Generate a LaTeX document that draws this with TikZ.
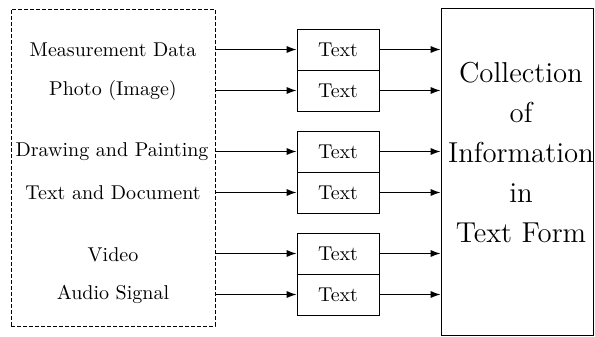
\documentclass[tikz,border=0pt]{standalone}
\usepackage{amsmath}
\usepackage{tikz}
\usetikzlibrary{positioning,arrows.meta}

\begin{document}
\begin{tikzpicture}[x=0.5pt, y=-0.5pt, line width=0.5pt,
    srcbox/.style={rectangle, draw, dash pattern=on 1.8pt off 1.2pt, minimum width=102pt, minimum height=158.5pt},
    txtbox/.style={rectangle, draw, minimum width=41pt, minimum height=20.5pt},
    collbox/.style={rectangle, draw, minimum width=76pt, minimum height=163.5pt},
    link/.style={-{Latex[length=5pt,width=3.6pt]}}]

    \useasboundingbox (0,0) rectangle (595,337);

    % sources
    \node[srcbox] (src) at (113,167.5) {};
    \node (m1) at (113,50) {Measurement Data};
    \node (m2) at (113,90) {Photo (Image)};
    \node (m3) at (112,152) {Drawing and Painting};
    \node (m4) at (113,193) {Text and Document};
    \node (m5) at (113,255) {Video};
    \node (m6) at (113,294) {Audio Signal};

    % text boxes
    \node[txtbox] (t1) at (338,49.5) {Text};
    \node[txtbox, below=-0.5pt of t1] (t2) {Text};
    \node[txtbox] (t3) at (338,151.5) {Text};
    \node[txtbox, below=-0.5pt of t3] (t4) {Text};
    \node[txtbox] (t5) at (338,253.5) {Text};
    \node[txtbox, below=-0.5pt of t5] (t6) {Text};

    % collection
    \node[collbox] (coll) at (517,171.5) {};
    \node[align=center, font=\Large] (ctext) at (521,153)
        {Collection\\[2pt] of\\[2pt] Information\\[2pt] in\\[2pt] Text Form};

    \foreach \i in {1,...,6}{
        \draw[link] (t\i -| src.east) -- (t\i.west);
        \draw[link] (t\i.east) -- (t\i -| coll.west);
    }
\end{tikzpicture}
\end{document}
